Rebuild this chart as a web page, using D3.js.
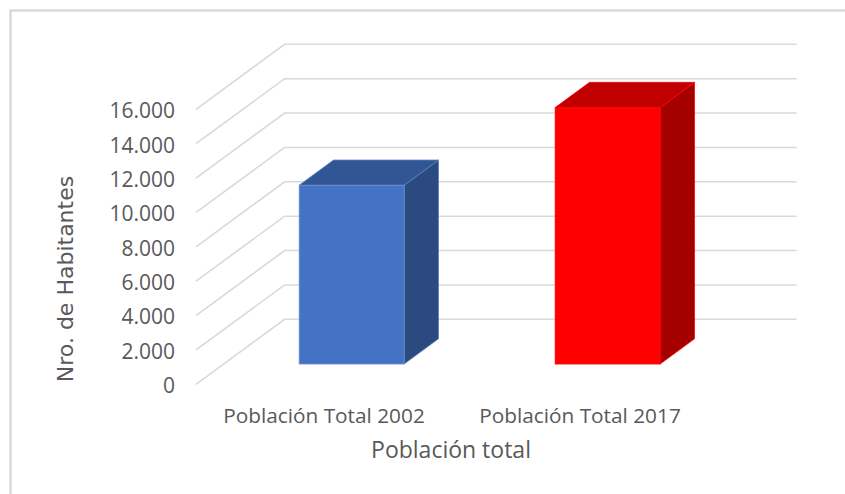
<!DOCTYPE html>
<html>
  <head>
    <meta charset="UTF-8">
    <style>
      body { margin: 0; background: #fff; }
      text { fill: #595959; }
    </style>
  </head>
  <body>
    <svg id="chart" width="845" height="494"></svg>

    <script src="https://d3js.org/d3.v7.min.js"></script>
    <script>
      // data
      var categories = ["Población Total 2002", "Población Total 2017"];
      var values = [10400, 14920];
      var yTicks = [0, 2000, 4000, 6000, 8000, 10000, 12000, 14000, 16000];
      var frontColors = ["#4472c4", "#ff0000"];
      var topColors = ["#325595", "#c00000"];
      var sideColors = ["#2a4a80", "#a40000"];
      var yTitle = "Nro. de Habitantes";
      var xTitle = "Población total";

      var svg = d3.select("#chart");

      // chart frame (runs off the right and bottom edges)
      svg.append("rect")
          .attr("x", 10.5).attr("y", 10.5)
          .attr("width", 900).attr("height", 600)
          .attr("fill", "none")
          .attr("stroke", "#d9d9d9")
          .attr("stroke-width", 2.5);

      // front plane of the 3d box, plus depth vector for the walls
      var x = d3.scaleBand()
          .domain(categories)
          .range([196, 708])
          .paddingInner(0.59)
          .paddingOuter(0.295);

      var y = d3.scaleLinear()
          .domain([0, 16000])
          .range([384.3, 109.3]);

      var depthX = 88.6, depthY = -65;
      var barFront = 0.312, barBack = 0.70;

      function pt(px, py, f) {
        return [px + f * depthX, py + f * depthY];
      }

      // gridlines: diagonal on the side wall, then across the back wall
      var grid = svg.append("g");
      yTicks.forEach(function(t) {
        var a = pt(x.range()[0], y(t), 0),
            b = pt(x.range()[0], y(t), 1),
            c = pt(x.range()[1], y(t), 1);
        grid.append("path")
            .attr("d", d3.line()([a, b, c]))
            .attr("fill", "none")
            .attr("stroke", "#d9d9d9")
            .attr("stroke-width", 1.6);
      });

      // tick labels
      svg.append("g")
          .selectAll("text")
          .data(yTicks)
          .enter().append("text")
            .attr("x", 175)
            .attr("y", function(d) { return y(d) + 1.5; })
            .attr("dy", "0.35em")
            .attr("text-anchor", "end")
            .style("font-family", "'Open Sans', sans-serif")
            .style("font-size", "21px")
            .text(function(d) { return d3.format(",")(d).replace(/,/g, "."); });

      // bars
      var bars = svg.append("g");
      categories.forEach(function(cat, i) {
        var x0 = x(cat), x1 = x(cat) + x.bandwidth();
        var y0 = y(0), y1 = y(values[i]);
        var edge = i == 1 ? "#ff0000" : "#5b7fc0";
        var g = bars.append("g");

        // side face
        g.append("path")
            .attr("d", d3.line()([pt(x1, y0, barFront), pt(x1, y0, barBack), pt(x1, y1, barBack), pt(x1, y1, barFront)]) + "Z")
            .attr("fill", sideColors[i])
            .attr("stroke", edge)
            .attr("stroke-width", 0.8)
            .attr("stroke-linejoin", "round");
        // top face
        g.append("path")
            .attr("d", d3.line()([pt(x0, y1, barFront), pt(x1, y1, barFront), pt(x1, y1, barBack), pt(x0, y1, barBack)]) + "Z")
            .attr("fill", topColors[i])
            .attr("stroke", edge)
            .attr("stroke-width", 0.8)
            .attr("stroke-linejoin", "round");
        // front face
        var f0 = pt(x0, y1, barFront), f1 = pt(x1, y0, barFront);
        g.append("rect")
            .attr("x", f0[0]).attr("y", f0[1])
            .attr("width", f1[0] - f0[0]).attr("height", f1[1] - f0[1])
            .attr("fill", frontColors[i])
            .attr("stroke", i == 1 ? "#ff0000" : "#6f91d0")
            .attr("stroke-width", 0.8);
      });

      // category labels
      svg.append("g")
          .selectAll("text")
          .data(categories)
          .enter().append("text")
            .attr("x", function(d) { return x(d) + x.bandwidth() / 2; })
            .attr("y", 422.5)
            .attr("text-anchor", "middle")
            .style("font-family", "'Open Sans', sans-serif")
            .style("font-size", "20.8px")
            .text(function(d) { return d; });

      // axis titles
      svg.append("text")
          .attr("x", 451)
          .attr("y", 458)
          .attr("text-anchor", "middle")
          .style("font-family", "'Open Sans', sans-serif")
          .style("font-size", "23px")
          .text(xTitle);

      svg.append("text")
          .attr("transform", "translate(73,279) rotate(-90)")
          .attr("text-anchor", "middle")
          .style("font-family", "'DejaVu Sans', sans-serif")
          .style("font-size", "22px")
          .text(yTitle);
    </script>
  </body>
</html>
